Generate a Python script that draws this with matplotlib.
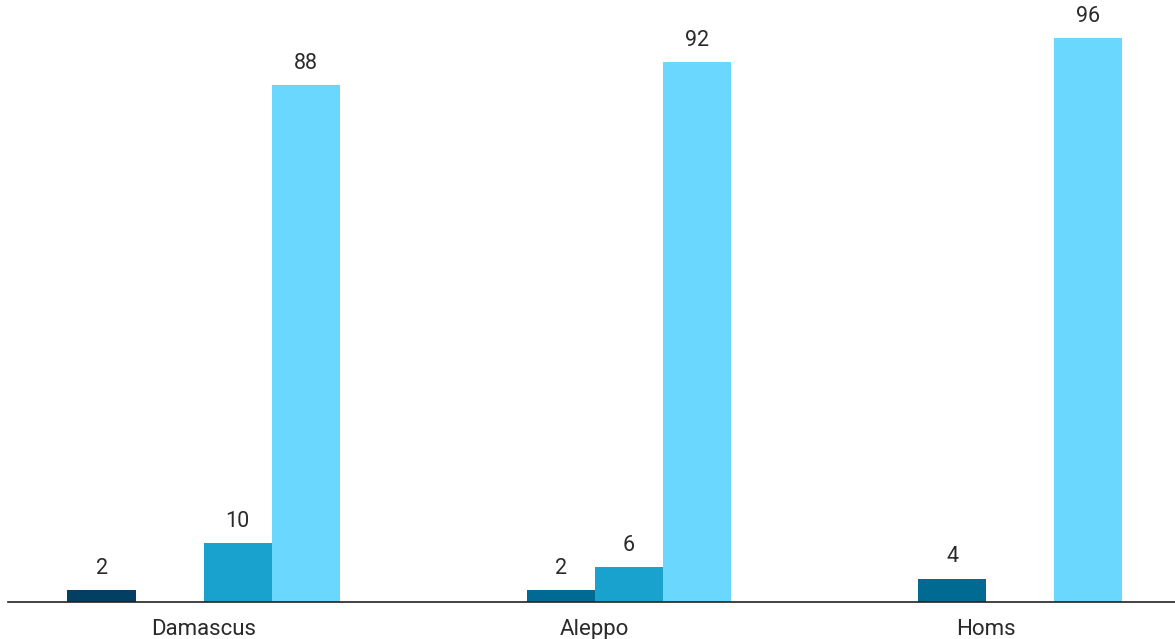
import matplotlib.pyplot as plt
import numpy as np

plt.rcParams['font.family'] = ['Roboto', 'DejaVu Sans']

cities = ['Damascus', 'Aleppo', 'Homs']
# four series per city, None where a city has no bar
series_a = [2, None, None]
series_b = [None, 2, 4]
series_c = [10, 6, None]
series_d = [88, 92, 96]
colors = ['#023f63', '#006a93', '#1aa2cf', '#6ad7ff']

fig = plt.figure(figsize=(11.75, 6.39), dpi=100)
ax = fig.add_axes([8 / 1175, 37 / 639, 1 - 8 / 1175, 602 / 639])

x = np.arange(len(cities))
width = 0.174
all_series = [series_a, series_b, series_c, series_d]
for i, (vals, col) in enumerate(zip(all_series, colors)):
    offs = (i - 1.5) * width
    for xi, v in zip(x, vals):
        if v is None:
            continue
        ax.bar(xi + offs, v, width, color=col)
        ax.annotate(str(v), (xi + offs, v), xytext=(0, 8), textcoords='offset points',
                    ha='center', va='bottom', fontsize=15.5, color='#2a2a2a')

ax.set_xlim(-0.5, 2.483)
ax.set_ylim(0, 102.5)
ax.set_xticks(x)
ax.set_xticklabels(cities, fontsize=16, color='#2a2a2a')
ax.tick_params(axis='x', length=0, pad=12)
ax.set_yticks([])
for s in ['top', 'right', 'left']:
    ax.spines[s].set_visible(False)
ax.spines['bottom'].set_color('#222222')
ax.spines['bottom'].set_linewidth(1.2)

fig.savefig('out.png', dpi=100)
